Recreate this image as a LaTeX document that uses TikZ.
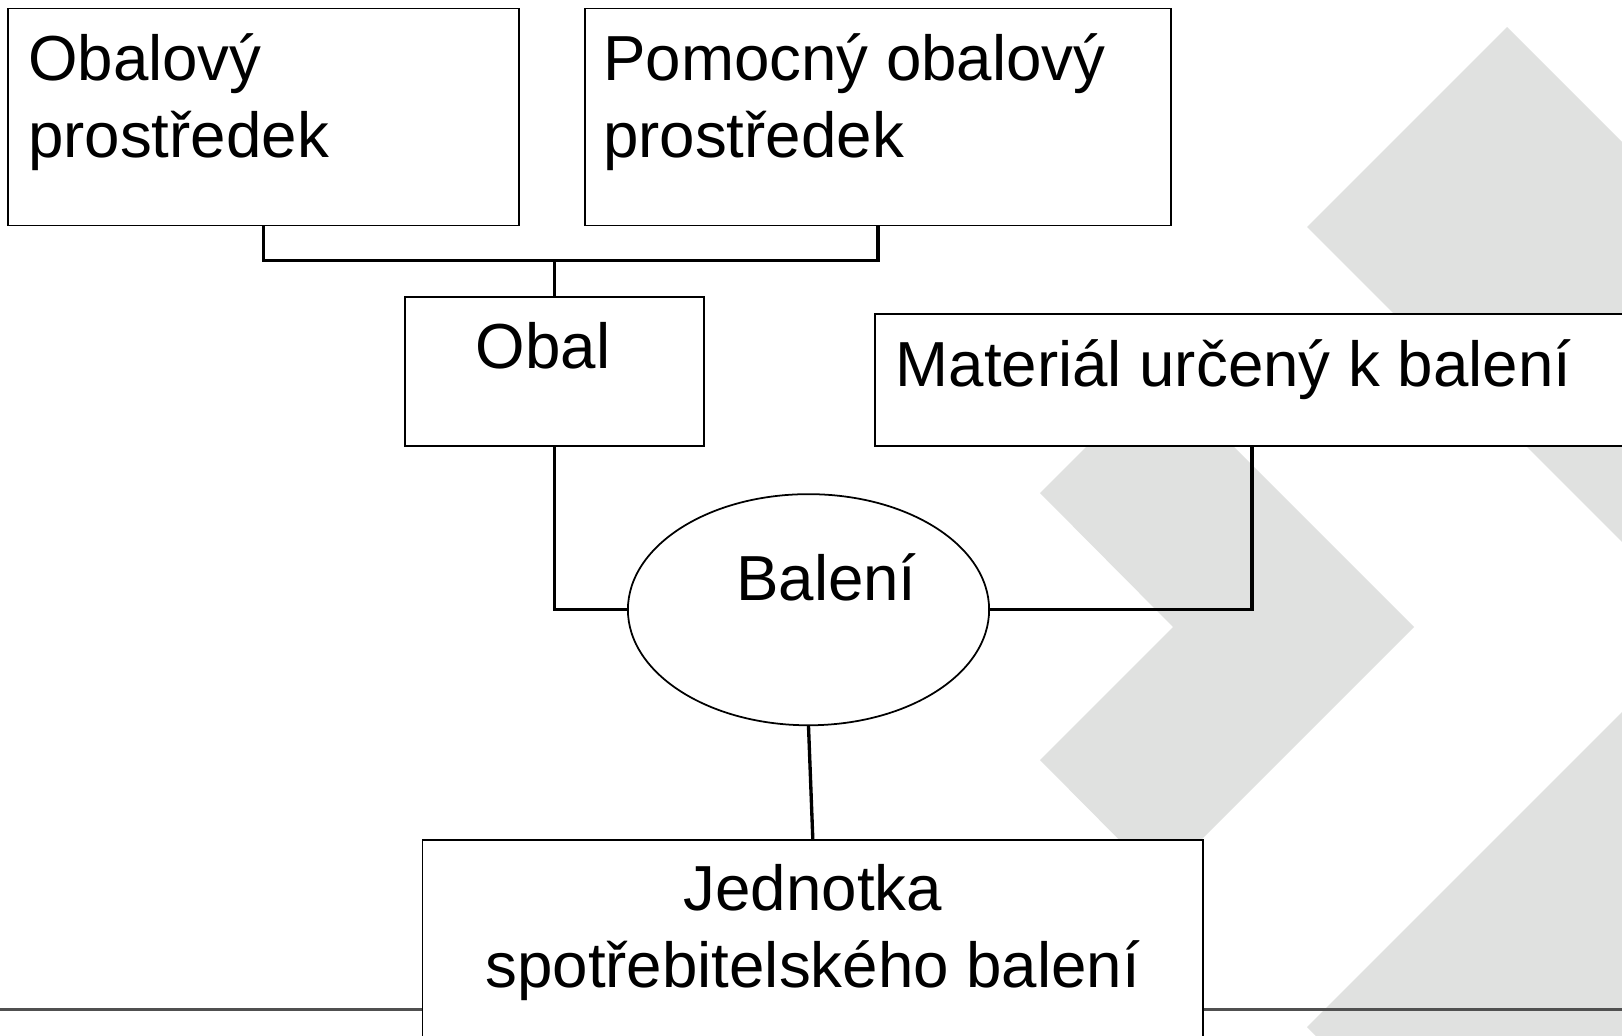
\documentclass[tikz,border=0pt]{standalone}
\usepackage{fontspec}
\setmainfont{Liberation Sans}
\usepackage{xcolor}
\usetikzlibrary{shapes.geometric, calc}

\definecolor{chevrongray}{RGB}{224,225,224}
\definecolor{rulegray}{RGB}{80,80,80}

\begin{document}
\begin{tikzpicture}[
        x=0.01cm, y=-0.01cm,
        box/.style={draw=black, line width=0.5pt, fill=white, inner sep=0pt},
        oval/.style={ellipse, draw=black, line width=0.5pt, fill=white, inner sep=0pt},
        boxtext/.style={inner sep=0pt, font=\fontsize{18.1}{21.8}\selectfont},
        link/.style={line width=0.95pt, black},
        chevron/.style={fill=chevrongray, draw=none}
        ]
        % Canvas
        \path[use as bounding box, clip] (0,0) rectangle (1622,1035);
        \fill[white] (0,0) rectangle (1622,1035);

        % Background chevrons
        \fill[chevron] (1040,493) -- (1160,373) -- (1414,627) -- (1160,881) -- (1040,760) -- (1173,627) -- cycle;
        \fill[chevron] (1307,227) -- (1507,27) -- (2107,627) -- (1507,1227) -- (1307,1027) -- (1707,627) -- cycle;

        % Footer rule
        \draw[rulegray, line width=0.6pt] (0,1009.5) -- (1622,1009.5);

        % Boxes
        \node[box, minimum width=5.10cm, minimum height=2.17cm] (obprost) at (263.5,117) {};
        \node[box, minimum width=5.85cm, minimum height=2.17cm] (pomprost) at (878,117) {};
        \node[box, minimum width=2.99cm, minimum height=1.484cm] (obal) at (554.5,371.5) {};
        \node[box, minimum width=7.54cm, minimum height=1.314cm] (material) at (1252,380) {};
        \node[oval, minimum width=3.61cm, minimum height=2.31cm] (bal) at (808.5,609.7) {};
        \node[box, minimum width=7.80cm, minimum height=2.20cm] (unit) at (812.8,950) {};

        % Texts (base = last line)
        \node[boxtext, anchor=base west, align=left] (obprost-t) at ($(obprost.north west)+(20,150)$) {Obalový\\prostředek};
        \node[boxtext, anchor=base west, align=left] (pomprost-t) at ($(pomprost.north west)+(18,150)$) {Pomocný obalový\\prostředek};
        \node[boxtext, anchor=base west] (obal-t) at ($(obal.north west)+(71,72)$) {Obal};
        \node[boxtext, anchor=base west] (material-t) at ($(material.north west)+(21,73)$) {Materiál určený k balení};
        \node[boxtext, anchor=base west] (bal-t) at ($(bal.center)+(-73,-9.7)$) {Balení};
        \node[boxtext, anchor=base, align=center] (unit-t) at ($(unit.north)+(0,148)$) {Jednotka\\spotřebitelského balení};

        % Connectors
        \coordinate (split) at ($(obal.north)+(0,-35.6)$);
        \draw[link] (obprost.south) |- (split) -| (pomprost.south);
        \draw[link] (split) -- (obal.north);
        \draw[link] (obal.south) |- (bal.west);
        \draw[link] (bal.east) -| (material.south);
        \draw[link] (bal.south) -- (unit.north);

    \end{tikzpicture}
\end{document}
